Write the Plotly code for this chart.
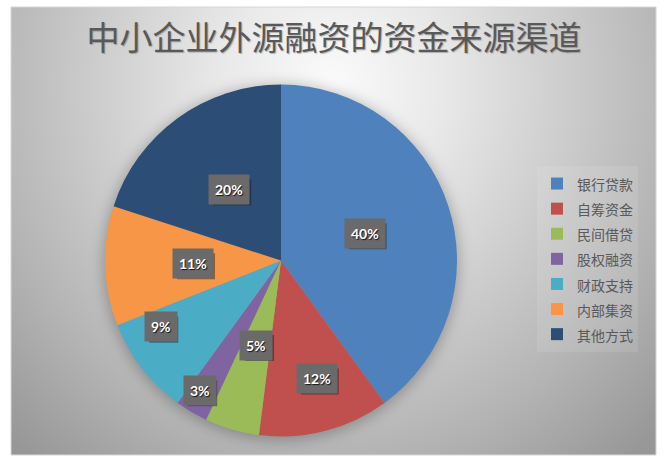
import base64
import math
import plotly.graph_objects as go

# data
categories = ["银行贷款", "自筹资金", "民间借贷", "股权融资", "财政支持", "内部集资", "其他方式"]
shares = [40, 12, 5, 3, 9, 11, 20]
colors = ["#4F81BD", "#C0504D", "#9BBB59", "#8064A2", "#4BACC6", "#F79646", "#2C4D75"]
title_text = "中小企业外源融资的资金来源渠道"

# label placement tweaks: fraction of radius, extra turn in degrees
label_radius = [0.5, 0.7, 0.5, 0.87, 0.78, 0.5, 0.5]
label_turn = [0, -2.5, 0, 1.5, 9, 0, 0]

W, H = 670, 468
pie_x = [0.1567, 0.6821]
pie_y = [0.0673, 0.8194]

# chart area inside the white page (pixels)
area_x0, area_y0, area_x1, area_y1 = 11, 7, 656, 455

# pie geometry in pixels (from bottom)
cx = (pie_x[0] + pie_x[1]) / 2 * W
cy = (pie_y[0] + pie_y[1]) / 2 * H
R = (pie_x[1] - pie_x[0]) * W / 2

#%% background picture: radial gradient plus soft shadow behind the pie
bw, bh = area_x1 - area_x0, area_y1 - area_y0
sh_x = cx - area_x0
sh_y = (H - cy) - area_y0
svg = f'''<svg xmlns="http://www.w3.org/2000/svg" width="{bw}" height="{bh}" viewBox="0 0 {bw} {bh}">
<defs>
<radialGradient id="g" gradientUnits="userSpaceOnUse" cx="0" cy="0" r="1"
 gradientTransform="translate(320,80) scale(460,490)">
<stop offset="0" stop-color="#fbfbfb"/>
<stop offset="0.25" stop-color="#e8e8e8"/>
<stop offset="0.75" stop-color="#b4b4b4"/>
<stop offset="1" stop-color="#979797"/>
</radialGradient>
<filter id="b" x="-30%" y="-30%" width="160%" height="160%"><feGaussianBlur stdDeviation="7"/></filter>
</defs>
<rect width="{bw}" height="{bh}" fill="url(#g)"/>
<circle cx="{sh_x:.1f}" cy="{sh_y + 2:.1f}" r="{R + 2:.1f}" fill="rgba(0,0,0,0.25)" filter="url(#b)"/>
</svg>'''
bg_uri = "data:image/svg+xml;base64," + base64.b64encode(svg.encode("utf-8")).decode("ascii")

#%% figure
legend_labels = [f"<span style='font-size:14px'>{c}</span>" for c in categories]

fig = go.Figure(go.Pie(
    labels=legend_labels,
    values=shares,
    sort=False,
    direction="clockwise",
    rotation=0,
    marker=dict(colors=colors, line=dict(width=0)),
    textinfo="none",
    hoverinfo="label+percent",
    domain=dict(x=pie_x, y=pie_y),
))

# percentage labels in dark boxes (with a small drop shadow)
total = sum(shares)
start = 0.0
for i, v in enumerate(shares):
    mid = start + v / total * 360 / 2 + label_turn[i]
    start += v / total * 360
    a = math.radians(mid)
    px = cx + label_radius[i] * R * math.sin(a)
    py = cy + label_radius[i] * R * math.cos(a)
    txt = f"{round(v / total * 100)}%"
    bw_half = (len(txt) * 8.6 + 12) / 2
    bh_half = 13
    fig.add_shape(type="rect", xref="paper", yref="paper", layer="above",
                  x0=(px - bw_half + 3) / W, x1=(px + bw_half + 3) / W,
                  y0=(py - bh_half - 3) / H, y1=(py + bh_half - 3) / H,
                  fillcolor="rgba(30,30,30,0.5)", line=dict(width=0))
    fig.add_annotation(x=px / W, y=py / H, xref="paper", yref="paper", text=f"<b>{txt}</b>",
                       showarrow=False, xanchor="center", yanchor="middle",
                       font=dict(family="Lato", size=14, color="white",
                                 shadow="1px 1px 1px rgba(0,0,0,0.8)"),
                       bgcolor="#6a6a6a", borderpad=6)

fig.add_layout_image(dict(
    source=bg_uri, xref="paper", yref="paper",
    x=area_x0 / W, y=1 - area_y0 / H,
    sizex=bw / W, sizey=bh / H,
    xanchor="left", yanchor="top", sizing="stretch", layer="below",
))
fig.add_shape(type="rect", xref="paper", yref="paper",
              x0=area_x0 / W, x1=area_x1 / W, y0=1 - area_y1 / H, y1=1 - area_y0 / H,
              line=dict(color="#d6d6d6", width=1), layer="below")

fig.update_layout(
    width=W, height=H,
    margin=dict(l=0, r=0, t=0, b=0),
    paper_bgcolor="white",
    plot_bgcolor="rgba(0,0,0,0)",
    title=dict(text=title_text, x=0.4985, xanchor="center", y=1 - 38 / H, yanchor="middle",
               font=dict(family="Noto Sans CJK SC", size=33, color="#595959",
                         shadow="1px 1px 1px rgba(0,0,0,0.25)")),
    legend=dict(x=537 / W, y=1 - 166 / H, xanchor="left", yanchor="top",
                font=dict(family="Noto Sans CJK SC", size=17, color="#595959"),
                bgcolor="rgba(255,255,255,0.1)", itemclick=False),
    showlegend=True,
)

fig.write_html("out.html", config={"displayModeBar": False},
               post_script="document.body.style.margin='0';")
